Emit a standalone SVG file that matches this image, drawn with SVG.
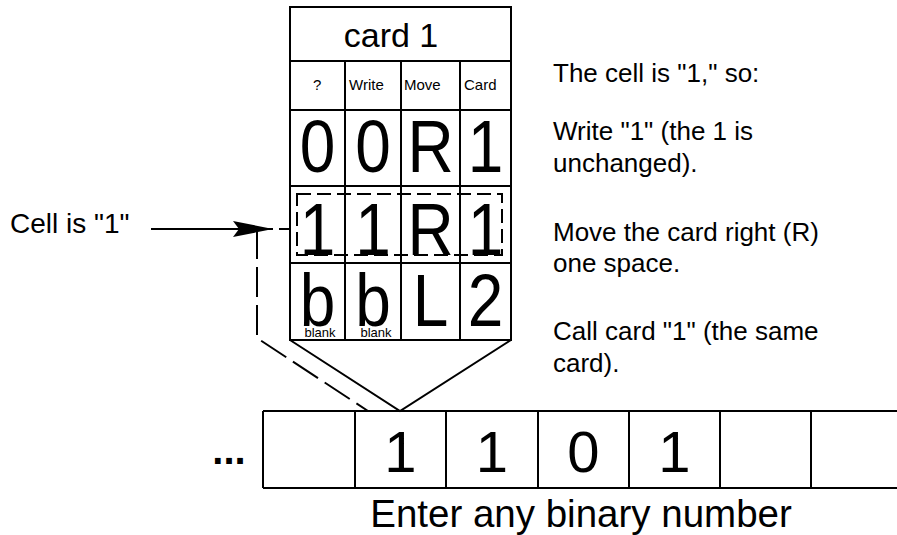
<svg xmlns="http://www.w3.org/2000/svg" width="897" height="535" viewBox="0 0 897 535">
<style>
.ln{fill:none;stroke:#000;stroke-width:2}
.dash{fill:none;stroke:#000;stroke-width:2}
text{font-family:"Liberation Sans",Arial,sans-serif;fill:#000}
.big{font-size:64px;text-anchor:middle}
.lbl{font-size:15px}
.note{font-size:26px}
.tape{font-size:58px;text-anchor:middle}
.sm{font-size:13px;text-anchor:middle}
</style>
<defs>
<marker id="ah" markerWidth="40" markerHeight="16" refX="40" refY="8" orient="auto" markerUnits="userSpaceOnUse">
<path d="M0,0 L40,8 L0,16 L6,8 Z" fill="#000"/>
</marker>
</defs>
<g id="card1">
<rect class="ln" x="290" y="7" width="221" height="333"/>
<line class="ln" x1="290" y1="61" x2="511" y2="61"/>
<line class="ln" x1="290" y1="110" x2="511" y2="110"/>
<line class="ln" x1="290" y1="186" x2="511" y2="186"/>
<line class="ln" x1="290" y1="263" x2="511" y2="263"/>
<line class="ln" x1="345" y1="61" x2="345" y2="340"/>
<line class="ln" x1="401" y1="61" x2="401" y2="340"/>
<line class="ln" x1="460" y1="61" x2="460" y2="340"/>
<text x="391" y="47" font-size="34" text-anchor="middle">card 1</text>
<text class="lbl" x="313" y="90">?</text>
<text class="lbl" x="349" y="90">Write</text>
<text class="lbl" x="404" y="90">Move</text>
<text class="lbl" x="464" y="90">Card</text>
<g transform="translate(0,172) scale(1,1.15) translate(0,-172)">
<text class="big" x="317.5" y="172">0</text>
<text class="big" x="373" y="172">0</text>
<text class="big" x="430.5" y="172">R</text>
<text class="big" x="485.5" y="172">1</text>
</g>
<g transform="translate(0,255) scale(1,1.15) translate(0,-255)">
<text class="big" x="317.5" y="255">1</text>
<text class="big" x="373" y="255">1</text>
<text class="big" x="430.5" y="255">R</text>
<text class="big" x="485.5" y="255">1</text>
</g>
<g transform="translate(0,326) scale(1,1.15) translate(0,-326)">
<text class="big" x="317.5" y="326">b</text>
<text class="big" x="373" y="326">b</text>
<text class="big" x="430.5" y="326">L</text>
<text class="big" x="485.5" y="326">2</text>
</g>
<text class="sm" x="320" y="337">blank</text>
<text class="sm" x="376" y="337">blank</text>
<rect class="dash" x="297" y="194" width="205" height="61" stroke-dasharray="14,6"/>
<polyline class="ln" points="290,340 400,411 511,340"/>
</g>
<g id="tape">
<line class="ln" x1="263" y1="411" x2="897" y2="411"/>
<line class="ln" x1="263" y1="488" x2="897" y2="488"/>
<line class="ln" x1="263" y1="411" x2="263" y2="488"/>
<line class="ln" x1="355" y1="411" x2="355" y2="488"/>
<line class="ln" x1="446" y1="411" x2="446" y2="488"/>
<line class="ln" x1="538" y1="411" x2="538" y2="488"/>
<line class="ln" x1="629" y1="411" x2="629" y2="488"/>
<line class="ln" x1="720" y1="411" x2="720" y2="488"/>
<line class="ln" x1="811" y1="411" x2="811" y2="488"/>
<text class="tape" x="400.5" y="472">1</text>
<text class="tape" x="492" y="472">1</text>
<text class="tape" x="583.5" y="472">0</text>
<text class="tape" x="674.5" y="472">1</text>
<text x="229" y="464" font-size="40" font-weight="bold" text-anchor="middle">...</text>
<text x="581" y="527" font-size="38.5" text-anchor="middle">Enter any binary number</text>
</g>
<g id="label">
<text x="10" y="233" font-size="28">Cell is "1"</text>
</g>
<g id="notes" class="note">
<text class="note" x="553" y="82">The cell is "1," so:</text>
<text class="note" x="553" y="140">Write "1" (the 1 is</text>
<text class="note" x="553" y="172">unchanged).</text>
<text class="note" x="553" y="241">Move the card right (R)</text>
<text class="note" x="553" y="272">one space.</text>
<text class="note" x="553" y="340">Call card "1" (the same</text>
<text class="note" x="553" y="372">card).</text>
</g>
<g id="connectors">
<line class="ln" x1="151" y1="229" x2="273" y2="229" marker-end="url(#ah)"/>
<line class="dash" x1="279" y1="229" x2="291" y2="229"/>
<polyline class="dash" points="257,229 257,338 368,411" stroke-dasharray="30,8"/>
</g>
</svg>
